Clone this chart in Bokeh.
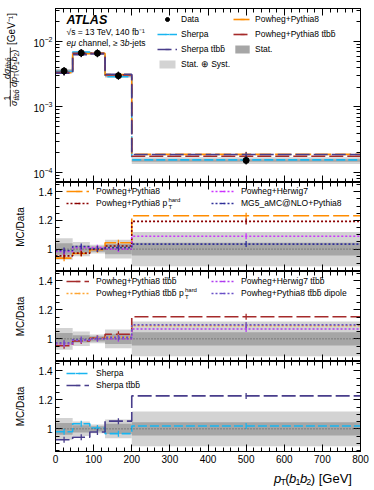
import math
from bokeh.plotting import figure
from bokeh.models import (Range1d, LinearAxis, LogAxis, FixedTicker, Label, Legend,
                          LegendItem, Span, CustomJSTickFormatter)
from bokeh.layouts import column, row
from bokeh.embed import file_html
from bokeh.resources import INLINE
from bokeh.core.properties import value

FONT = "Liberation Sans"
TTBB = "tt\u0304bb\u0304"

# ---------------- binning and ticks ----------------
bin_edges = [0, 45, 90, 130, 200, 800]
bin_centers = [22.5, 67.5, 110, 165, 500]
x_ticks = [0, 100, 200, 300, 400, 500, 600, 700, 800]
x_minor = list(range(0, 801, 20))
ratio_ticks = [1.0, 1.2, 1.4]
ratio_minor = [round(0.85 + 0.05 * i, 2) for i in range(13)]
log_ticks = [1e-4, 1e-3, 1e-2]
log_minor = [k * 10.0 ** e for e in (-5, -4, -3, -2) for k in range(2, 10)]

# ---------------- main panel values (1/sigma dsigma/dpT) ----------------
data_vals = [3.55e-3, 6.70e-3, 6.62e-3, 3.00e-3, 1.53e-4]
stat_rel = [0.040, 0.025, 0.018, 0.035, 0.045]
tot_rel = [0.075, 0.050, 0.030, 0.065, 0.120]
main_sherpa = [3.48e-3, 6.90e-3, 6.64e-3, 2.90e-3, 1.56e-4]
main_sherpa_ttbb = [3.28e-3, 6.30e-3, 6.45e-3, 3.16e-3, 1.88e-4]
main_pp8 = [3.33e-3, 6.50e-3, 6.58e-3, 3.13e-3, 1.89e-4]
main_pp8_ttbb = [3.38e-3, 6.63e-3, 6.62e-3, 3.09e-3, 1.77e-4]

# ---------------- MC / Data ratios ----------------
r_pp8 = [0.937, 0.969, 0.995, 1.044, 1.232]
r_pp8_hard = [0.953, 0.972, 1.000, 1.022, 1.193]
r_ph7 = [0.983, 1.010, 1.010, 1.000, 1.090]
r_mg5 = [0.990, 1.018, 1.002, 1.010, 1.035]
r_pp8_ttbb = [0.952, 0.985, 1.006, 1.032, 1.152]
r_pp8_ttbb_hard = [0.968, 0.992, 1.004, 1.012, 1.090]
r_ph7_ttbb = [0.965, 0.990, 1.000, 1.000, 1.068]
r_pp8_ttbb_dip = [0.972, 0.995, 1.002, 1.010, 1.096]
r_sherpa = [0.980, 1.035, 1.006, 0.967, 1.020]
r_sherpa_ttbb = [0.925, 0.942, 0.978, 1.053, 1.227]

# ---------------- style ----------------
C_PP8 = "#FF8C00"
C_PP8_TTBB = "#A52A2A"
C_PP8_HARD = "#8B0000"
C_PH7 = "#CC33FF"
C_MG5 = "#30309A"
C_PP8_TTBB_HARD = "#FFA533"
C_PH7_TTBB = "#B03CF0"
C_DIP = "#6A50C8"
C_SH = "#19B5F0"
C_SH_TTBB = "#483D8B"
C_TOT = "#D3D3D3"
C_STAT = "#A6A6A6"

LW = 30                 # width of the left title strip
FL, FW, RB = 24, 305, 15
PAGE_L = LW + FL        # page x of the frame's left edge
H_MAIN, H_R1, H_R2, H_R3 = 174, 89, 90, 90
TOP_MAIN = 8
BOT_MAIN = TOP_MAIN + H_MAIN
BOT_R1 = BOT_MAIN + H_R1
BOT_R2 = BOT_R1 + H_R2
BOT_R3 = BOT_R2 + H_R3
B_BOT = 16
X_TOP = BOT_R3 + B_BOT
X_H = 20
TOTAL_H = X_TOP + X_H

CW = {'p': .556, 'T': .611, '(': .333, ')': .333, 'b': .556, '1': .556, '2': .556, ' ': .278,
      '[': .278, ']': .278, 'G': .778, 'e': .556, 'V': .667, 'd': .556, '\u03c3': .6, 't': .278,
      '\u0304': 0, '\u03bc': .576, 'c': .5, 'h': .556, 'a': .556, 'n': .556, 'l': .222, ',': .278,
      '\u2265': .549, '3': .556, '-': .333, 'j': .222, 's': .5, 'P': .667, 'o': .556, 'w': .722,
      'g': .556, '+': .584, 'y': .5, 'i': .222, '8': .556}


def tw(s, size):
    return sum(CW.get(c, .556) for c in s) * size


def style_axis(ax, show, size="10px"):
    ax.major_tick_in = 7
    ax.major_tick_out = 0
    ax.minor_tick_in = 4
    ax.minor_tick_out = 0
    ax.axis_line_color = "black"
    ax.major_tick_line_color = "black"
    ax.minor_tick_line_color = "black"
    if show:
        ax.major_label_text_font = FONT
        ax.major_label_text_font_size = size
        ax.major_label_text_color = "black"
        ax.major_label_standoff = 3
    else:
        ax.formatter = CustomJSTickFormatter(code="return '';")
        ax.major_label_text_font_size = "1px"
        ax.major_label_text_color = None
        ax.major_label_standoff = 0


def make_panel(frame_h, y_range, log=False, top=0, bottom=0):
    p = figure(frame_width=FW, frame_height=frame_h, x_range=Range1d(0, 800), y_range=y_range,
               y_axis_type="log" if log else "linear", output_backend="svg", toolbar_location=None,
               min_border_left=FL, min_border_right=RB, min_border_top=top, min_border_bottom=bottom)
    p.xgrid.visible = False
    p.ygrid.visible = False
    p.outline_line_color = "black"
    p.outline_line_width = 1
    p.background_fill_color = "white"
    p.border_fill_color = "white"
    xt = FixedTicker(ticks=x_ticks, minor_ticks=x_minor)
    yt = FixedTicker(ticks=log_ticks, minor_ticks=log_minor) if log else \
        FixedTicker(ticks=ratio_ticks, minor_ticks=ratio_minor)
    p.xaxis.ticker = xt
    p.yaxis.ticker = yt
    style_axis(p.xaxis[0], bottom > 0)
    style_axis(p.yaxis[0], True)
    if not log:
        p.yaxis[0].formatter = CustomJSTickFormatter(
            code="return Math.abs(tick-1)<1e-6 ? '1' : tick.toFixed(1);")
    top_ax = LinearAxis(ticker=xt)
    style_axis(top_ax, False)
    p.add_layout(top_ax, "above")
    right_ax = (LogAxis if log else LinearAxis)(ticker=yt)
    style_axis(right_ax, False)
    p.add_layout(right_ax, "right")
    return p


def lab(p, text, px, py, fbot, size, style="normal", align="left", baseline="middle"):
    p.add_layout(Label(x=px - PAGE_L, y=fbot - py, x_units="screen", y_units="screen", text=text,
                       text_font=FONT, text_font_size=f"{size}px", text_font_style=style,
                       text_align=align, text_baseline=baseline, text_color="black"))


def hrun(p, pieces, px, py, fbot):
    # SVG collapses leading blanks, so advance over them explicitly
    x = px
    for text, size, style, dy in pieces:
        lead = len(text) - len(text.lstrip(" "))
        x += tw(" " * lead, size)
        body = text.lstrip(" ")
        lab(p, body, x, py + dy, fbot, size, style)
        x += tw(body, size)


def bands(p, centre_vals, log=False):
    if log:
        rt = p.quad(left=bin_edges[:-1], right=bin_edges[1:],
                    bottom=[v * (1 - t) for v, t in zip(centre_vals, tot_rel)],
                    top=[v * (1 + t) for v, t in zip(centre_vals, tot_rel)],
                    fill_color=C_TOT, line_color=None)
        rs = p.quad(left=bin_edges[:-1], right=bin_edges[1:],
                    bottom=[v * (1 - t) for v, t in zip(centre_vals, stat_rel)],
                    top=[v * (1 + t) for v, t in zip(centre_vals, stat_rel)],
                    fill_color=C_STAT, line_color=None)
    else:
        rt = p.quad(left=bin_edges[:-1], right=bin_edges[1:],
                    bottom=[1 - t for t in tot_rel], top=[1 + t for t in tot_rel],
                    fill_color=C_TOT, line_color=None)
        rs = p.quad(left=bin_edges[:-1], right=bin_edges[1:],
                    bottom=[1 - t for t in stat_rel], top=[1 + t for t in stat_rel],
                    fill_color=C_STAT, line_color=None)
        p.add_layout(Span(location=1, dimension="width", line_color="#555555",
                          line_dash="1 2", line_width=1))
    return rt, rs


def series(p, vals, color, dash, msize=6):
    r1 = p.step(x=bin_edges, y=list(vals) + [vals[-1]], mode="after", line_color=color,
                line_dash=dash, line_width=1.6)
    r2 = p.scatter(x=bin_centers, y=vals, marker="dash", angle=math.pi / 2, size=msize,
                   line_color=color, line_width=1.3)
    return [r1, r2]


def legend(p, items, left_px, first_py, pitch, fbot, glyph_w, standoff):
    row_h = 10
    n = len(items)
    sp = int(pitch - row_h)
    H = n * row_h + (n - 1) * sp
    bottom_py = first_py - row_h / 2 + H
    leg = Legend(items=[LegendItem(label=t, renderers=r) for t, r in items],
                 location=(left_px - PAGE_L, fbot - bottom_py), orientation="vertical",
                 background_fill_alpha=0, border_line_alpha=0, padding=0, margin=0,
                 spacing=sp, glyph_width=glyph_w, glyph_height=row_h,
                 label_height=row_h, label_standoff=standoff, label_text_font=FONT,
                 label_text_font_size="8.5px", label_text_color="black")
    p.add_layout(leg)


# ================= main panel =================
p0 = make_panel(H_MAIN, Range1d(7.03e-5, 3.19e-2), log=True, top=TOP_MAIN)
band_tot, band_stat = bands(p0, data_vals, log=True)
s_sh = series(p0, main_sherpa, C_SH, "9 3", 5)
s_pp8 = series(p0, main_pp8, C_PP8, "16 4", 5)
s_pp8t = series(p0, main_pp8_ttbb, C_PP8_TTBB, "14 4", 5)
s_sht = series(p0, main_sherpa_ttbb, C_SH_TTBB, "14 4", 5)
d_bar = p0.scatter(x=bin_centers, y=data_vals, marker="dash", angle=math.pi / 2, size=8,
                   line_color="black", line_width=1.2)
d_pt = p0.scatter(x=bin_centers, y=data_vals, marker="circle", size=6, fill_color="black",
                  line_color="black")
legend(p0, [("Data", [d_pt, d_bar]), ("Sherpa", s_sh), ("Sherpa " + TTBB, s_sht),
            ("Stat. \u2295 Syst.", [band_tot])], 156, 19, 15, BOT_MAIN, 20, 4)
legend(p0, [("Powheg+Pythia8", s_pp8), ("Powheg+Pythia8 " + TTBB, s_pp8t),
            ("Stat.", [band_stat])], 232, 19, 15, BOT_MAIN, 18, 4)

lab(p0, "ATLAS", 65, 19, BOT_MAIN, 12.5, "bold italic")
lab(p0, "\u221as = 13 TeV, 140 fb\u207b\u00b9", 65, 31, BOT_MAIN, 8.5)
hrun(p0, [("e\u03bc", 8.5, "italic", 0), (" channel, \u2265 3", 8.5, "normal", 0),
          ("b", 8.5, "italic", 0), ("-jets", 8.5, "normal", 0)], 65, 42, BOT_MAIN)

# ================= ratio panel 1 =================
RR = (0.844, 1.464)
p1 = make_panel(H_R1, Range1d(*RR))
bands(p1, None)
a = series(p1, r_pp8, C_PP8, "16 4")
b = series(p1, r_pp8_hard, C_PP8_HARD, "2 2")
c = series(p1, r_ph7, C_PH7, "2 2")
d = series(p1, r_mg5, C_MG5, "2 2")
legend(p1, [("Powheg+Pythia8", a), ("Powheg+Pythia8 p", b)], 65, 191, 12, BOT_R1, 23, 7)
legend(p1, [("Powheg+Herwig7", c), ("MG5_aMC@NLO+Pythia8", d)], 210, 191, 12, BOT_R1, 23, 7)
xe = 95 + tw("Powheg+Pythia8 p", 8.5) + 0.8
lab(p1, "hard", xe, 199.5, BOT_R1, 6)
lab(p1, "T", xe, 206, BOT_R1, 6)

# ================= ratio panel 2 =================
p2 = make_panel(H_R2, Range1d(*RR))
bands(p2, None)
a = series(p2, r_pp8_ttbb, C_PP8_TTBB, "14 4")
b = series(p2, r_pp8_ttbb_hard, C_PP8_TTBB_HARD, "2 2")
c = series(p2, r_ph7_ttbb, C_PH7_TTBB, "2 2")
d = series(p2, r_pp8_ttbb_dip, C_DIP, "2 2")
legend(p2, [("Powheg+Pythia8 " + TTBB, a), ("Powheg+Pythia8 " + TTBB + " p", b)],
       65, 281, 12, BOT_R2, 23, 7)
legend(p2, [("Powheg+Herwig7 " + TTBB, c), ("Powheg+Pythia8 " + TTBB + " dipole", d)],
       210, 281, 12, BOT_R2, 23, 7)
xe = 95 + tw("Powheg+Pythia8 " + TTBB + " p", 8.5) + 0.8
lab(p2, "hard", xe, 289.5, BOT_R2, 6)
lab(p2, "T", xe, 296, BOT_R2, 6)

# ================= ratio panel 3 =================
p3 = make_panel(H_R3, Range1d(*RR), bottom=B_BOT)
bands(p3, None)
a = series(p3, r_sherpa, C_SH, "9 3")
b = series(p3, r_sherpa_ttbb, C_SH_TTBB, "14 4")
legend(p3, [("Sherpa", a), ("Sherpa " + TTBB, b)], 65, 373, 12, BOT_R3, 23, 7)

# ================= left title strip (y titles) =================
lf = figure(width=LW, height=TOTAL_H, x_range=Range1d(0, LW), y_range=Range1d(0, TOTAL_H),
            min_border=0, toolbar_location=None, output_backend="svg",
            x_axis_location=None, y_axis_location=None)
lf.grid.visible = False
lf.outline_line_color = None
lf.border_fill_color = "white"
lf.background_fill_color = "white"


def ltext(text, px, py, size, style="normal", align="left", angle=math.pi / 2):
    lf.text(x=[px], y=[TOTAL_H - py], text=[text], angle=angle, text_font=value(FONT),
            text_font_size=f"{size}px", text_font_style=style, text_align=align,
            text_baseline="middle", text_color="black")


def lrun(pieces, px, py_start):
    y = py_start
    for text, size, style, dx in pieces:
        ltext(text, px + dx, y, size, style)
        y -= tw(text, size)


# fraction 1/sigma
ltext("1", 6, 97.5, 9, "normal", "center")
lrun([("\u03c3", 9, "italic", 0), (TTBB, 6.5, "italic", 2)], 13.5, 105.5)
# fraction d sigma / d pT(b1 b2)
lrun([("d\u03c3", 9, "italic", 0), (TTBB, 6.5, "italic", 1.8)], 6, 78.5)
lrun([("dp", 9, "italic", 0), ("T", 6.5, "normal", 2), ("(", 9, "normal", 0),
      ("b", 9, "italic", 0), ("1", 6.5, "normal", 2), ("b", 9, "italic", 0),
      ("2", 6.5, "normal", 2), (")", 9, "normal", 0)], 13.5, 86.5)
lf.segment(x0=[9.8, 9.8], y0=[TOTAL_H - 89, TOTAL_H - 47], x1=[9.8, 9.8],
           y1=[TOTAL_H - 106, TOTAL_H - 88], line_color="black", line_width=0.8)
ltext("[GeV\u207b\u00b9]", 11, 28.5, 10, "normal", "center")
for yc in ((BOT_MAIN + BOT_R1) / 2, (BOT_R1 + BOT_R2) / 2, (BOT_R2 + BOT_R3) / 2):
    ltext("MC/Data", 20, yc, 10, "normal", "center")

# ================= x-axis title strip =================
xf = figure(width=FL + FW + RB, height=X_H, x_range=Range1d(LW, LW + FL + FW + RB),
            y_range=Range1d(-X_H, 0), min_border=0, toolbar_location=None,
            output_backend="svg", x_axis_location=None, y_axis_location=None)
xf.grid.visible = False
xf.outline_line_color = None
xl = [("p", 13, "italic", 0), ("T", 9, "normal", 3), ("(", 13, "normal", 0),
      ("b", 13, "italic", 0), ("1", 9, "normal", 3), ("b", 13, "italic", 0),
      ("2", 9, "normal", 3), (") [GeV]", 13, "normal", 0)]
xx = 360 - sum(tw(t, s) for t, s, _, _ in xl)
for text, size, style, dy in xl:
    xf.text(x=[xx], y=[X_TOP - (478 + dy)], text=[text], text_font=value(FONT),
            text_font_size=f"{size}px", text_font_style=style, text_align="left",
            text_baseline="alphabetic", text_color="black")
    xx += tw(text, size)

layout = row(lf, column(p0, p1, p2, p3, xf, spacing=0), spacing=0)
open("out.html", "w").write(file_html(layout, INLINE))
